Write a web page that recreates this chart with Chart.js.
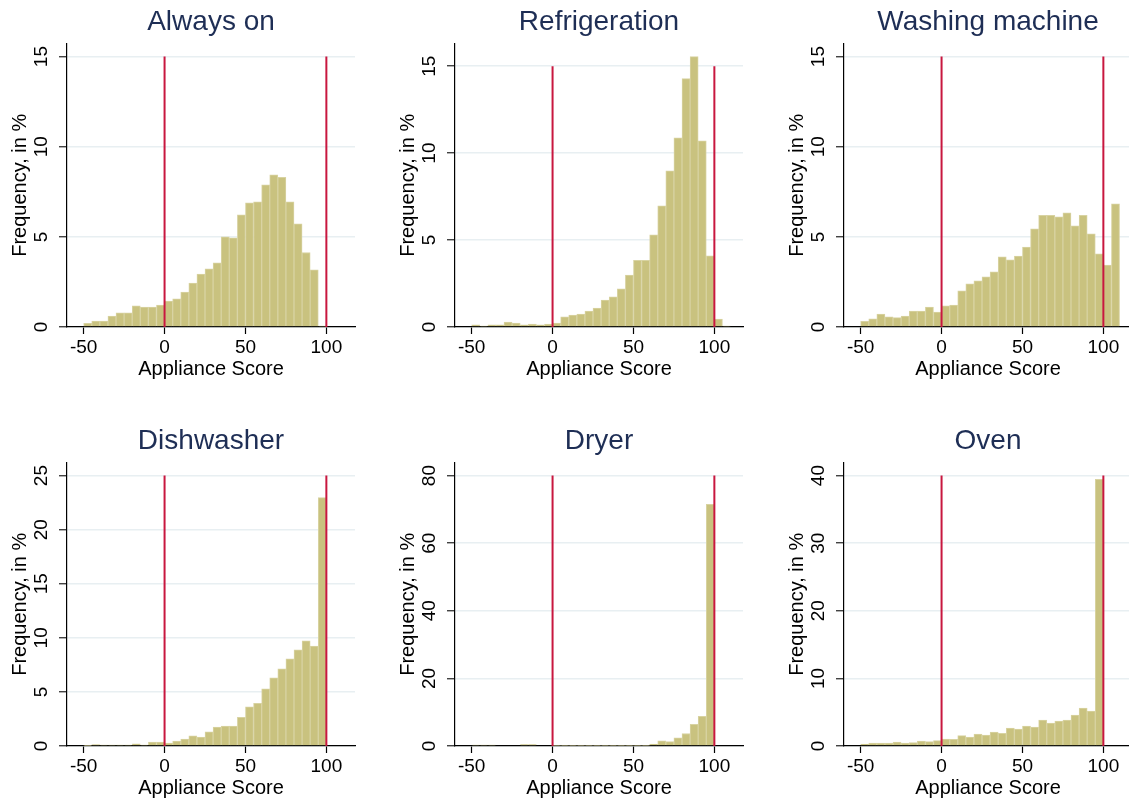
<!DOCTYPE html>
<html>
<head>
<meta charset="utf-8">
<title>Appliance Score histograms</title>
<script src="https://cdn.jsdelivr.net/npm/chart.js@4.4.1/dist/chart.umd.min.js"></script>
<style>
  html, body { margin: 0; padding: 0; background: #fff; overflow: hidden; }
  #wrap { position: relative; width: 1129px; height: 800px; }
  #wrap canvas { position: absolute; }
</style>
</head>
<body>
<div id="wrap"></div>
<script>
// bins of 5 points, left edge of each bar
const binStarts = [-50, -45, -40, -35, -30, -25, -20, -15, -10, -5, 0, 5, 10, 15, 20, 25,
  30, 35, 40, 45, 50, 55, 60, 65, 70, 75, 80, 85, 90, 95, 100, 105];
const binWidth = 5;

const titles = ['Always on', 'Refrigeration', 'Washing machine', 'Dishwasher', 'Dryer', 'Oven'];

// frequency in % per bin
const alwaysOn = [0.2, 0.33, 0.33, 0.6, 0.78, 0.78, 1.17, 1.1, 1.1, 1.22,
  1.44, 1.56, 1.94, 2.44, 2.93, 3.22, 3.56, 5.0, 4.94, 6.22,
  6.89, 6.94, 7.89, 8.44, 8.3, 6.94, 5.72, 4.13, 3.17, 0.05];
const refrigeration = [0.12, 0.06, 0.12, 0.12, 0.29, 0.23, 0.12, 0.17, 0.12, 0.17,
  0.23, 0.58, 0.69, 0.75, 0.92, 1.09, 1.55, 1.73, 2.19, 2.98,
  3.84, 3.84, 5.3, 6.97, 8.98, 10.88, 14.28, 15.55, 10.71, 4.09,
  0.46, 0.06];
const washingMachine = [0.31, 0.46, 0.72, 0.57, 0.52, 0.61, 0.89, 0.89, 1.11, 0.83,
  1.17, 1.22, 2.0, 2.39, 2.56, 2.78, 3.06, 3.89, 3.72, 3.94,
  4.44, 5.44, 6.19, 6.19, 6.11, 6.33, 5.61, 6.19, 5.17, 4.06,
  3.44, 6.83];
const dishwasher = [0.06, 0.12, 0.09, 0.09, 0.09, 0.09, 0.19, 0.09, 0.37, 0.37,
  0.28, 0.46, 0.65, 0.93, 0.83, 1.3, 1.76, 1.85, 1.85, 2.65,
  3.61, 3.95, 5.28, 6.3, 7.13, 8.06, 8.89, 9.72, 9.23, 22.96];
const dryer = [0.3, 0.3, 0.3, 0, 0, 0, 0.4, 0.4, 0, 0,
  0.2, 0.2, 0.2, 0.2, 0.2, 0.2, 0.2, 0.2, 0.2, 0.2,
  0.2, 0.2, 0.6, 1.5, 1.3, 2.4, 3.7, 6.4, 8.8, 71.5];
const oven = [0.3, 0.44, 0.44, 0.44, 0.59, 0.44, 0.49, 0.74, 0.64, 0.79,
  1.03, 0.99, 1.53, 1.33, 1.77, 1.63, 2.07, 1.87, 2.66, 2.51,
  2.96, 2.81, 3.84, 3.4, 3.69, 3.84, 4.58, 5.62, 5.17, 39.46];

const seriesList = [alwaysOn, refrigeration, washingMachine, dishwasher, dryer, oven];

// tick labels
const xTicks = [-50, 0, 50, 100];
const yTicksList = [
  [0, 5, 10, 15],
  [0, 5, 10, 15],
  [0, 5, 10, 15],
  [0, 5, 10, 15, 20, 25],
  [0, 20, 40, 60, 80],
  [0, 10, 20, 30, 40]
];

// vertical reference lines
const refLines = [0, 100];

//=========================
// styles
//=========================
const font = "'Liberation Sans', Arial, sans-serif";
const barFill = '#c9c27f';
const barEdge = '#d8d3a2';
const refRed = '#c8173f';
const titleColor = '#1e2e55';
const gridColor = '#e8eff2';

const wrap = document.getElementById('wrap');
const panelLeft = [0, 388, 777];
const panelTop = [0, 419];

for (let i = 0; i < 6; i++) {
  const canvas = document.createElement('canvas');
  canvas.width = 388;
  canvas.height = 419;
  canvas.style.left = panelLeft[i % 3] + 'px';
  canvas.style.top = panelTop[Math.floor(i / 3)] + 'px';
  wrap.appendChild(canvas);

  const values = seriesList[i];
  const yTicks = yTicksList[i];
  const topTick = yTicks[yTicks.length - 1];

  // bar sits in the middle of its bin
  const barData = values.map((v, k) => ({x: binStarts[k] + binWidth / 2, y: v}));

  const lineSets = refLines.map(r => ({
    type: 'line',
    data: [{x: r, y: 0}, {x: r, y: topTick}],
    borderColor: refRed,
    borderWidth: 2,
    pointRadius: 0,
    order: 0
  }));

  const yTop = Math.max(topTick, Math.max(...values)) * 1.048;

  new Chart(canvas, {
    type: 'bar',
    data: {
      datasets: [
        ...lineSets,
        {
          data: barData,
          backgroundColor: barFill,
          borderColor: barEdge,
          borderWidth: 1,
          barPercentage: 1,
          categoryPercentage: 1,
          order: 1
        }
      ]
    },
    options: {
      responsive: false,
      animation: false,
      devicePixelRatio: 1,
      layout: {padding: {left: 0, right: 33, top: 0, bottom: 0}},
      plugins: {
        legend: {display: false},
        tooltip: {enabled: false},
        title: {
          display: true,
          text: titles[i],
          fullSize: false,
          color: titleColor,
          font: {family: font, size: 28, weight: 'normal'},
          padding: {top: 5, bottom: 5}
        }
      },
      scales: {
        x: {
          type: 'linear',
          min: -60.3,
          max: 117.7,
          offset: false,
          afterFit: s => { s.height = 92; },
          afterBuildTicks: s => { s.ticks = xTicks.map(v => ({value: v})); },
          grid: {display: true, drawOnChartArea: false, offset: false, tickLength: 7, tickColor: '#000', tickWidth: 1.2},
          border: {display: true, color: '#000', width: 1.2},
          ticks: {color: '#000', font: {family: font, size: 19}, padding: 2, maxRotation: 0, autoSkip: false},
          title: {
            display: true,
            text: 'Appliance Score',
            color: '#000',
            font: {family: font, size: 20},
            padding: {top: 0, bottom: 38}
          }
        },
        y: {
          min: 0,
          max: yTop,
          afterFit: s => { s.width = 67; },
          afterBuildTicks: s => { s.ticks = yTicks.map(v => ({value: v})); },
          grid: {color: gridColor, lineWidth: 1.5, tickLength: 8, tickColor: '#222', tickWidth: 1.2},
          border: {display: true, color: '#000', width: 1.2},
          ticks: {
            color: '#000',
            font: {family: font, size: 19},
            padding: 7,
            minRotation: 90,
            maxRotation: 90,
            crossAlign: 'center',
            autoSkip: false
          },
          title: {
            display: true,
            text: 'Frequency, in %',
            color: '#000',
            font: {family: font, size: 20},
            padding: {top: 8, bottom: 0}
          }
        }
      }
    }
  });
}
</script>
</body>
</html>
